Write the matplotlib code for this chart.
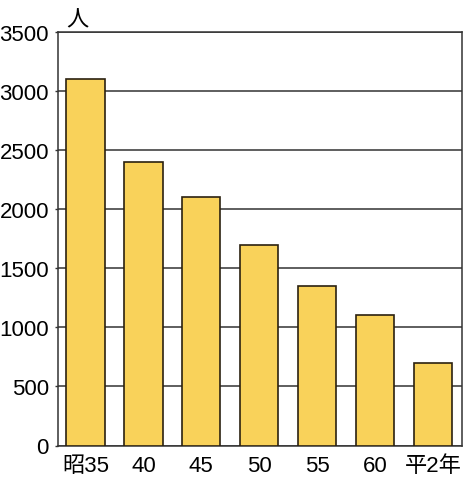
import matplotlib
matplotlib.use("Agg")
import matplotlib.pyplot as plt

categories = ["昭35", "40", "45", "50", "55", "60", "平2年"]
values = [3100, 2400, 2100, 1700, 1350, 1100, 700]
yticks = [0, 500, 1000, 1500, 2000, 2500, 3000, 3500]

base = 'Liberation Sans'
plt.rcParams['font.family'] = [base, 'Noto Sans CJK JP', 'DejaVu Sans']

fig = plt.figure(figsize=(4.63, 4.81), dpi=100)
ax = fig.add_axes([58/463, (481-446.5)/481, (462-58)/463, (446.5-32.7)/481])

x = list(range(len(categories)))
ax.bar(x, values, width=0.66, color="#F9D25A", edgecolor="#2b2110", linewidth=1.2, zorder=3)

ax.set_ylim(0, 3500)
ax.set_xlim(-0.475, 6.5)
ax.set_yticks(yticks)
ax.set_yticklabels([str(t) for t in yticks], fontsize=16)
ax.set_xticks(x)
ax.set_xticklabels(categories, fontsize=16, family=[base, 'Noto Sans CJK JP'])
ax.yaxis.grid(True, color="#333333", linewidth=1.1, zorder=0)
ax.tick_params(axis='x', length=0, pad=7)
ax.tick_params(axis='y', length=2, pad=4.5, width=1.0, color="#333333")
for s in ax.spines.values():
    s.set_color("#333333")
    s.set_linewidth(1.1)

fig.text(77/463, 1 - 20/481, "人", fontsize=16, family=['Noto Sans CJK JP'],
         ha='center', va='center')

fig.savefig("out.png", dpi=100)
